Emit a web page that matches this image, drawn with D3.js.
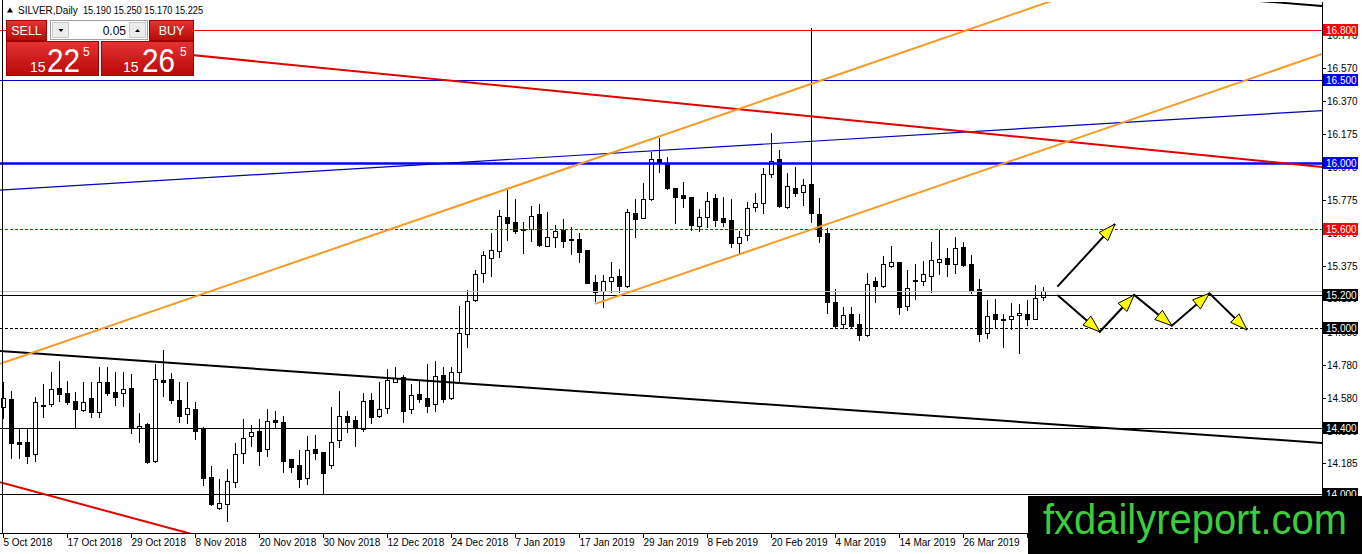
<!DOCTYPE html>
<html><head><meta charset="utf-8">
<script src="https://cdn.jsdelivr.net/npm/d3@7"></script>
<style>html,body{margin:0;padding:0;background:#fff;overflow:hidden}svg{display:block}</style>
</head><body>
<svg id="c" width="1362" height="554"></svg>
<script>
// ---------- DATA ----------
const symbolTitle = "SILVER,Daily";
const headerOHLC = ["15.190", "15.250", "15.170", "15.225"];
const lotSize = "0.05";
const sellPrice = ["15", "22", "5"];
const buyPrice = ["15", "26", "5"];
const watermark = "fxdailyreport.com";

// one label every 8 daily bars, starting at bar 0
const dateLabels = ["5 Oct 2018", "17 Oct 2018", "29 Oct 2018", "8 Nov 2018", "20 Nov 2018",
  "30 Nov 2018", "12 Dec 2018", "24 Dec 2018", "7 Jan 2019", "17 Jan 2019", "29 Jan 2019",
  "8 Feb 2019", "20 Feb 2019", "4 Mar 2019", "14 Mar 2019", "26 Mar 2019", "5 Apr 2019"];
const labelStep = 8;

const opens = [14.527,14.573,14.311,14.311,14.239,14.535,14.541,14.637,14.607,14.561,
14.507,14.577,14.496,14.673,14.613,14.611,14.637,14.396,14.422,14.201,
14.688,14.694,14.567,14.480,14.513,14.396,14.104,13.913,13.937,14.074,
14.245,14.352,14.382,14.269,14.446,14.434,14.211,14.174,14.094,14.271,
14.251,14.174,14.326,14.471,14.447,14.390,14.567,14.473,14.517,14.678,
14.704,14.511,14.603,14.577,14.543,14.718,14.577,14.734,14.963,15.171,
15.332,15.422,15.466,15.670,15.639,15.597,15.597,15.688,15.498,15.553,
15.593,15.539,15.539,15.472,15.277,15.227,15.287,15.317,15.257,15.694,
15.663,15.780,16.020,15.995,15.845,15.805,15.791,15.618,15.670,15.785,
15.664,15.654,15.513,15.563,15.730,15.758,15.931,16.020,15.734,15.845,
15.825,15.871,15.690,15.577,15.157,15.026,15.084,15.026,14.959,15.285,
15.255,15.378,15.398,15.136,15.291,15.287,15.317,15.402,15.422,15.386,
15.488,15.388,15.235,14.969,15.084,15.056,15.054,15.078,15.086,15.054,15.190];
const highs = [14.677,14.623,14.396,14.396,14.583,14.663,14.734,14.804,14.684,14.613,
14.673,14.673,14.764,14.764,14.734,14.734,14.724,14.486,14.426,14.784,
14.869,14.728,14.677,14.677,14.557,14.402,14.168,14.088,14.148,14.309,
14.452,14.416,14.452,14.513,14.502,14.470,14.211,14.265,14.352,14.356,
14.251,14.527,14.622,14.503,14.471,14.611,14.607,14.678,14.754,14.769,
14.718,14.664,14.688,14.785,14.803,14.768,14.768,15.134,15.231,15.352,
15.468,15.577,15.714,15.835,15.780,15.643,15.738,15.750,15.704,15.623,
15.659,15.613,15.573,15.472,15.321,15.321,15.402,15.358,15.718,15.778,
15.875,16.066,16.146,16.036,15.849,15.885,15.791,15.718,15.825,15.811,
15.791,15.779,15.589,15.764,15.815,15.966,16.177,16.076,15.935,15.972,
15.899,16.810,15.785,15.604,15.235,15.127,15.126,15.086,15.335,15.307,
15.436,15.496,15.398,15.351,15.386,15.406,15.518,15.593,15.482,15.549,
15.518,15.442,15.295,15.170,15.174,15.086,15.154,15.146,15.170,15.261,15.250];
const lows = [14.456,14.215,14.215,14.189,14.201,14.462,14.533,14.563,14.543,14.396,
14.500,14.466,14.466,14.597,14.537,14.533,14.366,14.311,14.189,14.195,
14.591,14.547,14.436,14.426,14.331,14.054,13.933,13.907,13.836,14.044,
14.189,14.289,14.174,14.229,14.402,14.134,14.134,14.044,14.060,14.211,
13.999,14.154,14.282,14.376,14.292,14.380,14.426,14.467,14.491,14.678,
14.437,14.491,14.557,14.497,14.503,14.557,14.571,14.678,14.885,15.167,
15.277,15.318,15.432,15.533,15.573,15.456,15.529,15.496,15.498,15.492,
15.492,15.448,15.402,15.271,15.165,15.130,15.221,15.221,15.251,15.553,
15.663,15.774,15.945,15.841,15.637,15.734,15.593,15.589,15.614,15.618,
15.618,15.493,15.453,15.533,15.710,15.698,15.911,15.734,15.724,15.799,
15.744,15.644,15.523,15.094,15.010,15.000,15.009,14.929,14.953,15.160,
15.247,15.372,15.084,15.110,15.174,15.261,15.221,15.327,15.315,15.331,
15.376,15.215,14.925,14.939,15.009,14.885,14.993,14.853,15.020,15.054,15.170];
const closes = [14.577,14.305,14.303,14.231,14.553,14.529,14.631,14.601,14.553,14.515,
14.557,14.496,14.673,14.607,14.587,14.631,14.396,14.412,14.191,14.692,
14.678,14.567,14.472,14.517,14.382,14.094,13.939,13.943,14.080,14.241,
14.335,14.372,14.261,14.440,14.436,14.201,14.165,14.088,14.265,14.245,
14.124,14.311,14.471,14.436,14.396,14.561,14.467,14.511,14.688,14.698,
14.503,14.597,14.571,14.533,14.712,14.571,14.734,14.970,15.167,15.326,
15.440,15.470,15.678,15.637,15.587,15.591,15.680,15.502,15.549,15.587,
15.529,15.531,15.462,15.271,15.221,15.285,15.307,15.257,15.700,15.657,
15.778,16.020,15.995,15.849,15.794,15.785,15.624,15.670,15.770,15.654,
15.644,15.517,15.553,15.724,15.758,15.931,16.012,15.740,15.859,15.819,
15.865,15.694,15.557,15.161,15.014,15.080,15.013,14.959,15.265,15.257,
15.386,15.402,15.130,15.241,15.283,15.327,15.412,15.416,15.388,15.482,
15.382,15.227,14.965,15.076,15.054,15.050,15.074,15.090,15.054,15.180,15.225];

const priceTicks = [16.770,16.570,16.370,16.175,15.975,15.775,15.575,15.375,15.180,14.980,14.780,14.580,14.380,14.185,13.985];

// horizontal levels
const levelPrices = [16.800, 16.500, 16.000, 15.600, 15.200, 15.000, 14.400, 14.000];
const bidPrice = 15.225;

// trend lines: [barIndex, price] endpoints
const redUpper   = [[0.375, 16.760], [164.875, 15.974]];
const redLower   = [[-0.375, 14.071], [30, 13.675]];
const blackLower = [[-0.375, 14.863], [164.875, 14.308]];
const blackUpper = [[150, 17.002], [164.875, 16.945]];
const orangeUpper= [[-0.375, 14.785], [140, 17.124]];
const orangeLower= [[74, 15.147], [164.875, 16.655]];
const blueThin   = [[-0.375, 15.834], [164.875, 16.314]];

// projected path arrows
const arrowUp = [[131.8, 15.251], [139.0, 15.629]];
const zigzag = [[131.8, 15.201], [137.1, 14.979], [141.4, 15.201], [146.1, 15.016], [150.8, 15.211], [155.5, 14.990]];

// ---------- STYLES / LAYOUT ----------
const levelStyle = [
  {c:"#ff0000", w:1, dash:null, box:"#ff0000"},
  {c:"#0000cc", w:1, dash:null, box:"#0000ff"},
  {c:"#0000ff", w:2.5, dash:null, box:"#0000ff"},
  {c:"#cc0000", w:1, dash:"3,2", box:"#ff0000"},
  {c:"#000000", w:1, dash:null, box:"#000000"},
  {c:"#000000", w:1, dash:"3,2", box:"#000000"},
  {c:"#000000", w:1, dash:null, box:"#000000"},
  {c:"#000000", w:1, dash:null, box:"#000000"}
];
const FONT = "'Liberation Sans', Arial, sans-serif";
const plotR = 1322, plotT = 2, plotB = 533;

const x = d3.scaleLinear().domain([0, 130]).range([3, 1043]);
const y = d3.scaleLinear().domain([14.0, 16.8]).range([494, 30]);

const svg = d3.select("#c");
const defs = svg.append("defs");
defs.append("clipPath").attr("id", "plot").append("rect")
  .attr("x", 0).attr("y", plotT).attr("width", plotR).attr("height", plotB - plotT);
const grad = defs.append("linearGradient").attr("id", "rg").attr("x1", 0).attr("y1", 0).attr("x2", 0).attr("y2", 1);
grad.append("stop").attr("offset", "0%").attr("stop-color", "#e53333");
grad.append("stop").attr("offset", "100%").attr("stop-color", "#b80808");

svg.append("rect").attr("width", 1362).attr("height", 554).attr("fill", "#fff");

const g = svg.append("g").attr("clip-path", "url(#plot)");

// candles
const bars = d3.range(opens.length).map(i => ({i, o: opens[i], h: highs[i], l: lows[i], c: closes[i]}));
const cg = g.append("g");
bars.forEach(d => {
  const cx = Math.round(x(d.i));
  cg.append("line").attr("x1", cx + 0.5).attr("x2", cx + 0.5)
    .attr("y1", Math.round(y(d.h))).attr("y2", Math.round(y(d.l)) + 1)
    .attr("stroke", "#000").attr("stroke-width", 1);
  const top = Math.round(y(Math.max(d.o, d.c)));
  const bot = Math.round(y(Math.min(d.o, d.c)));
  const up = d.c >= d.o;
  if (bot - top < 1) {
    cg.append("line").attr("x1", cx - 2).attr("x2", cx + 3).attr("y1", top + 0.5).attr("y2", top + 0.5)
      .attr("stroke", "#000");
  } else {
    cg.append("rect").attr("x", cx - 1.5).attr("y", top + 0.5).attr("width", 4).attr("height", bot - top)
      .attr("fill", up ? "#fff" : "#000").attr("stroke", "#000").attr("stroke-width", 1);
  }
});

// bid line
g.append("line").attr("x1", 0).attr("x2", plotR).attr("y1", Math.round(y(bidPrice)) + 0.5).attr("y2", Math.round(y(bidPrice)) + 0.5)
  .attr("stroke", "#c0c0c0").attr("stroke-width", 1);

// horizontal levels
levelPrices.forEach((p, k) => {
  const s = levelStyle[k];
  const yy = Math.round(y(p)) + (s.w % 2 ? 0.5 : 0);
  g.append("line").attr("x1", 0).attr("x2", plotR).attr("y1", yy).attr("y2", yy)
    .attr("stroke", s.c).attr("stroke-width", s.w).attr("stroke-dasharray", s.dash);
});

// trend lines
const line = d3.line().x(d => x(d[0])).y(d => y(d[1]));
const trend = (pts, c, w) => g.append("path").attr("d", line(pts)).attr("fill", "none").attr("stroke", c).attr("stroke-width", w);
trend(blueThin, "#0000bb", 1.2);
trend(redUpper, "#e00000", 2);
trend(redLower, "#e00000", 2);
trend(blackLower, "#000", 2);
trend(blackUpper, "#000", 2);
trend(orangeUpper, "#f59a23", 2);
trend(orangeLower, "#f59a23", 2);

// arrows
function arrowHead(p0, p1) {
  const x0 = x(p0[0]), y0 = y(p0[1]), x1 = x(p1[0]), y1 = y(p1[1]);
  const ang = Math.atan2(y1 - y0, x1 - x0);
  const L = 17, Wd = 6;
  const bx = x1 - L * Math.cos(ang), by = y1 - L * Math.sin(ang);
  const nx = -Math.sin(ang) * Wd, ny = Math.cos(ang) * Wd;
  g.append("path").attr("d", `M${x1},${y1}L${bx + nx},${by + ny}L${bx - nx},${by - ny}Z`)
    .attr("fill", "#ffff00").attr("stroke", "#000").attr("stroke-width", 1);
}
g.append("path").attr("d", line(arrowUp)).attr("fill", "none").attr("stroke", "#000").attr("stroke-width", 2);
arrowHead(arrowUp[0], arrowUp[1]);
g.append("path").attr("d", line(zigzag)).attr("fill", "none").attr("stroke", "#000").attr("stroke-width", 2);
for (let k = 1; k < zigzag.length; k++) arrowHead(zigzag[k - 1], zigzag[k]);

// frame (left) and right axis
svg.append("line").attr("x1", 2.5).attr("x2", 2.5).attr("y1", 0).attr("y2", plotB + 1).attr("stroke", "#000");
svg.append("line").attr("x1", plotR + 0.5).attr("x2", plotR + 0.5).attr("y1", plotT).attr("y2", plotB + 1).attr("stroke", "#000");
priceTicks.forEach(p => {
  const yy = Math.round(y(p)) + 0.5;
  svg.append("line").attr("x1", plotR).attr("x2", plotR + 4).attr("y1", yy).attr("y2", yy).attr("stroke", "#000");
  svg.append("text").attr("x", plotR + 5).attr("y", yy + 3.5).attr("font-family", FONT).attr("font-size", 10)
    .attr("fill", "#000").text(p.toFixed(3));
});
levelPrices.forEach((p, k) => {
  const s = levelStyle[k];
  const yy = Math.round(y(p));
  svg.append("rect").attr("x", plotR + 1).attr("y", yy - 6).attr("width", 35).attr("height", 12).attr("fill", s.box);
  svg.append("text").attr("x", plotR + 4).attr("y", yy + 4).attr("font-family", FONT).attr("font-size", 10)
    .attr("fill", "#fff").text(p.toFixed(3));
});

// bottom axis
svg.append("line").attr("x1", 0).attr("x2", plotR + 1).attr("y1", plotB + 0.5).attr("y2", plotB + 0.5).attr("stroke", "#000");
dateLabels.forEach((t, k) => {
  const xx = Math.round(x(k * labelStep)) + 0.5;
  svg.append("line").attr("x1", xx).attr("x2", xx).attr("y1", plotB).attr("y2", plotB + 5).attr("stroke", "#000");
  svg.append("text").attr("x", xx).attr("y", 546).attr("font-family", FONT).attr("font-size", 10)
    .attr("fill", "#000").text(t);
});

// watermark
svg.append("rect").attr("x", 1028).attr("y", 496).attr("width", 334).attr("height", 58).attr("fill", "#000");
svg.append("text").attr("x", 1043).attr("y", 534).attr("font-family", FONT).attr("font-size", 42)
  .attr("fill", "#3ccc3c").attr("textLength", 304).attr("lengthAdjust", "spacingAndGlyphs").text(watermark);

// header
svg.append("path").attr("d", "M7,12.5L10,7.5L13,12.5Z").attr("fill", "#000");
svg.append("text").attr("x", 18).attr("y", 14).attr("font-family", FONT).attr("font-size", 10).attr("fill", "#000").text(symbolTitle);
svg.append("text").attr("x", 83).attr("y", 14).attr("font-family", FONT).attr("font-size", 10).attr("fill", "#000")
  .attr("textLength", 120).attr("lengthAdjust", "spacingAndGlyphs").text(headerOHLC.join(" "));

// trade panel
const pn = svg.append("g");
pn.append("rect").attr("x", 6).attr("y", 20).attr("width", 188).attr("height", 57).attr("fill", "#fff");
pn.append("rect").attr("x", 6.5).attr("y", 20.5).attr("width", 40).attr("height", 20).attr("fill", "url(#rg)").attr("stroke", "#a00000");
pn.append("text").attr("x", 26.5).attr("y", 35).attr("text-anchor", "middle").attr("font-family", FONT).attr("font-size", 12.5).attr("fill", "#fff").text("SELL");
pn.append("rect").attr("x", 149.5).attr("y", 20.5).attr("width", 44).attr("height", 20).attr("fill", "url(#rg)").attr("stroke", "#a00000");
pn.append("text").attr("x", 171.5).attr("y", 35).attr("text-anchor", "middle").attr("font-family", FONT).attr("font-size", 12.5).attr("fill", "#fff").text("BUY");
pn.append("rect").attr("x", 50.5).attr("y", 20.5).attr("width", 97).attr("height", 19).attr("fill", "#fff").attr("stroke", "#a0a0a0");
pn.append("rect").attr("x", 52.5).attr("y", 22.5).attr("width", 16).attr("height", 15).attr("fill", "#ececec").attr("stroke", "#c8c8c8");
pn.append("rect").attr("x", 129.5).attr("y", 22.5).attr("width", 16).attr("height", 15).attr("fill", "#ececec").attr("stroke", "#c8c8c8");
pn.append("path").attr("d", "M58.5,29L63.5,29L61,32Z").attr("fill", "#000");
pn.append("path").attr("d", "M135,32L140,32L137.5,29Z").attr("fill", "#000");
pn.append("text").attr("x", 126).attr("y", 35).attr("text-anchor", "end").attr("font-family", FONT).attr("font-size", 12).attr("fill", "#000").text(lotSize);
[[6, sellPrice, 30, 47, 83], [101, buyPrice, 123, 142, 180]].forEach(([bx, pr, x1, x2, x3]) => {
  pn.append("rect").attr("x", bx + 0.5).attr("y", 41.5).attr("width", 92).attr("height", 34).attr("fill", "url(#rg)").attr("stroke", "#a00000");
  pn.append("text").attr("x", x1).attr("y", 71.5).attr("font-family", FONT).attr("font-size", 14).attr("fill", "#fff").text(pr[0]);
  pn.append("text").attr("x", x2).attr("y", 72).attr("font-family", FONT).attr("font-size", 34).attr("fill", "#fff")
    .attr("textLength", 33).attr("lengthAdjust", "spacingAndGlyphs").text(pr[1]);
  pn.append("text").attr("x", x3).attr("y", 56).attr("font-family", FONT).attr("font-size", 12).attr("fill", "#fff").text(pr[2]);
});
</script>
</body></html>
